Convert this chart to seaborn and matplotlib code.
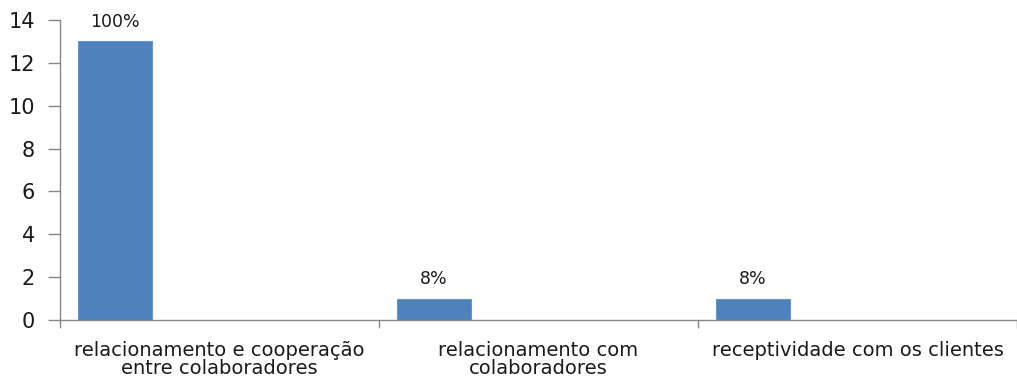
import numpy as np
import matplotlib
matplotlib.use("Agg")
import matplotlib.pyplot as plt
import seaborn as sns

categories = [
    "relacionamento e cooperação\nentre colaboradores",
    "relacionamento com\ncolaboradores",
    "receptividade com os clientes",
]
values = [13, 1, 1]
y_ticks = [0, 2, 4, 6, 8, 10, 12, 14]

# share of the largest answer, shown above each bar
total = max(values)
pct_labels = [f"{round(v / total * 100):.0f}%" for v in values]

sns.set_theme(style="white")
plt.rcParams["font.family"] = ["DejaVu Sans"]

fig = plt.figure(figsize=(10.17, 3.8), dpi=100)
ax = fig.add_axes([60 / 1017, 60 / 380, 957 / 1017, 300 / 380])

# bars sit in the left part of each category slot
bar_offset = -0.328
idx = np.arange(len(categories))
sns.barplot(x=idx + bar_offset, y=values, native_scale=True, width=0.232,
            color="#4F81BD", saturation=1, edgecolor="#6A94C8", linewidth=0.8,
            ax=ax)

for xi, v, lab in zip(idx + bar_offset, values, pct_labels):
    ax.annotate(lab, (xi, v), xytext=(0, 14), textcoords="offset points",
                ha="center", va="center", fontsize=12.5, color="#1a1a1a")

ax.set_xlim(-0.5, len(categories) - 0.5)
ax.set_ylim(0, 14)
ax.set_yticks(y_ticks)
ax.set_yticklabels([str(t) for t in y_ticks], fontsize=15, color="#1a1a1a")

# boundary ticks between categories, names centred in each slot
ax.set_xticks(np.arange(len(categories) + 1) - 0.5)
ax.set_xticklabels([""] * (len(categories) + 1))
ax.set_xticks(idx, minor=True)
ax.set_xticklabels(categories, minor=True, fontsize=14, color="#1a1a1a",
                   linespacing=0.95)
ax.tick_params(axis="x", which="major", direction="out", length=6,
               width=1, color="#868686", bottom=True)
ax.tick_params(axis="x", which="minor", length=0, pad=15)
ax.tick_params(axis="y", direction="out", length=9, width=1,
               color="#868686", left=True, pad=9)

for side in ("top", "right"):
    ax.spines[side].set_visible(False)
for side in ("left", "bottom"):
    ax.spines[side].set_color("#868686")
    ax.spines[side].set_linewidth(1)

ax.set_xlabel("")
ax.set_ylabel("")
fig.savefig("out.png", dpi=100)
